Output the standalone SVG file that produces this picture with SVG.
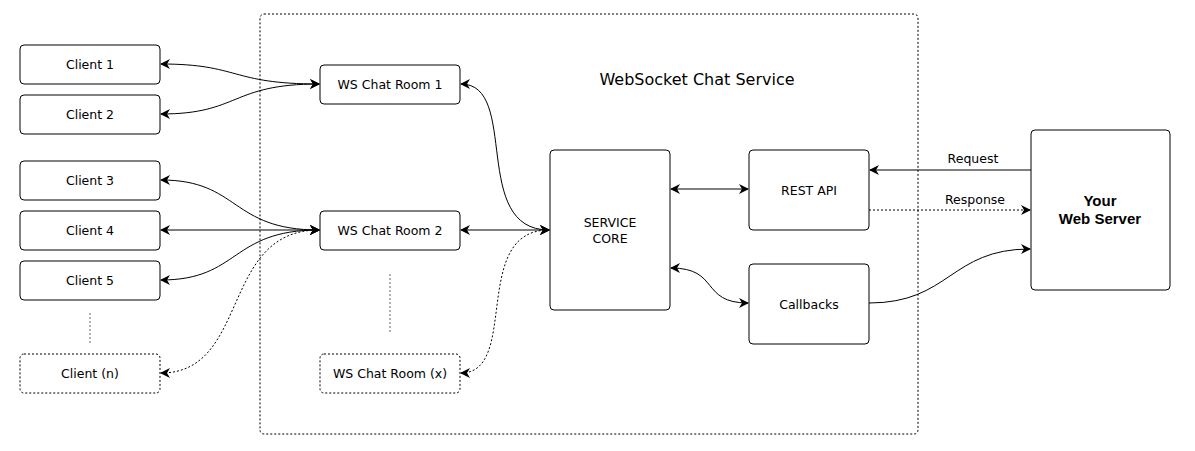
<svg xmlns="http://www.w3.org/2000/svg" width="1195" height="451" viewBox="0 0 1195 451">
<style>
.n{fill:#fff;stroke:#000;stroke-width:1}
.d{stroke-dasharray:2 2}
text{font-family:"DejaVu Sans",sans-serif;font-size:12.5px;text-anchor:middle;dominant-baseline:central;fill:#000}
.c path{fill:none;stroke:#000;stroke-width:1;marker-end:url(#a)}
.c .b{marker-start:url(#s)}
</style>
<defs>
<marker id="a" viewBox="0 0 10 10" refX="9" refY="5" markerWidth="10" markerHeight="10" markerUnits="userSpaceOnUse" orient="auto"><path d="M0,0 L10,5 L0,10 L3,5Z" fill="#000"/></marker>
<marker id="s" viewBox="0 0 10 10" refX="1" refY="5" markerWidth="10" markerHeight="10" markerUnits="userSpaceOnUse" orient="auto"><path d="M10,0 L0,5 L10,10 L7,5Z" fill="#000"/></marker>
</defs>
<rect x="0" y="0" width="1195" height="451" fill="#fff"/>
<g id="container"><rect x="260" y="14" width="658" height="420" rx="4" class="n d"/><text x="697" y="79" style="font-size:16px">WebSocket Chat Service</text></g>
<g id="client1"><rect x="20" y="45" width="140" height="39" rx="4" class="n"/><text x="90" y="64.5">Client 1</text></g>
<g id="client2"><rect x="20" y="95" width="140" height="39" rx="4" class="n"/><text x="90" y="114.5">Client 2</text></g>
<g id="client3"><rect x="20" y="161" width="140" height="39" rx="4" class="n"/><text x="90" y="180.5">Client 3</text></g>
<g id="client4"><rect x="20" y="211" width="140" height="39" rx="4" class="n"/><text x="90" y="230.5">Client 4</text></g>
<g id="client5"><rect x="20" y="261" width="140" height="39" rx="4" class="n"/><text x="90" y="280.5">Client 5</text></g>
<g id="clientn"><rect x="20" y="354" width="140" height="39" rx="4" class="n d"/><text x="90" y="373.5">Client (n)</text></g>
<g id="room1"><rect x="320" y="65" width="140" height="39" rx="4" class="n"/><text x="390" y="84.5">WS Chat Room 1</text></g>
<g id="room2"><rect x="320" y="211" width="140" height="39" rx="4" class="n"/><text x="390" y="230.5">WS Chat Room 2</text></g>
<g id="roomx"><rect x="320" y="354" width="140" height="39" rx="4" class="n d"/><text x="390" y="373.5">WS Chat Room (x)</text></g>
<g id="core"><rect x="550" y="150" width="120" height="160" rx="4" class="n"/><text x="610" y="222">SERVICE</text><text x="610" y="238">CORE</text></g>
<g id="rest"><rect x="749" y="150" width="120" height="80" rx="4" class="n"/><text x="809" y="190">REST API</text></g>
<g id="callbacks"><rect x="749" y="264" width="120" height="80" rx="4" class="n"/><text x="809" y="304">Callbacks</text></g>
<g id="webserver"><rect x="1031" y="130" width="139" height="160" rx="4" class="n"/><text x="1100" y="200" style="font-family:'Liberation Sans',Arial,sans-serif;font-weight:bold;font-size:15px">Your</text><text x="1100" y="218" style="font-family:'Liberation Sans',Arial,sans-serif;font-weight:bold;font-size:15px">Web Server</text></g>
<g id="connectors" class="c">
<path class="b" d="M161,64 C240,64 230,84 319,84"/>
<path class="b" d="M161,114 C240,114 230,84 319,84"/>
<path class="b" d="M161,180 C240,180 230,230 319,230"/>
<path class="b" d="M161,230 L319,230"/>
<path class="b" d="M161,280 C240,280 230,230 319,230"/>
<path class="b d" d="M161,373 C250,373 220,230 319,230"/>
<path class="b" d="M461,84 C520,84 470,230 549,230"/>
<path class="b" d="M461,230 L549,230"/>
<path class="b d" d="M461,373 C520,373 470,230 549,230"/>
<path class="b" d="M671,189 L748,189"/>
<path class="b" d="M671,268 C720,268 700,303 748,303"/>
<path d="M1031,170 L870,170"/>
<path class="d" d="M869,210 L1030,210"/>
<path d="M869,303 C950,303 950,249 1030,249"/>
<path class="d" d="M90,313 L90,343 M390,274 L390,332" style="marker-end:none;stroke:#666"/>
</g>
<text x="973" y="158">Request</text>
<text x="975" y="199">Response</text>
</svg>
